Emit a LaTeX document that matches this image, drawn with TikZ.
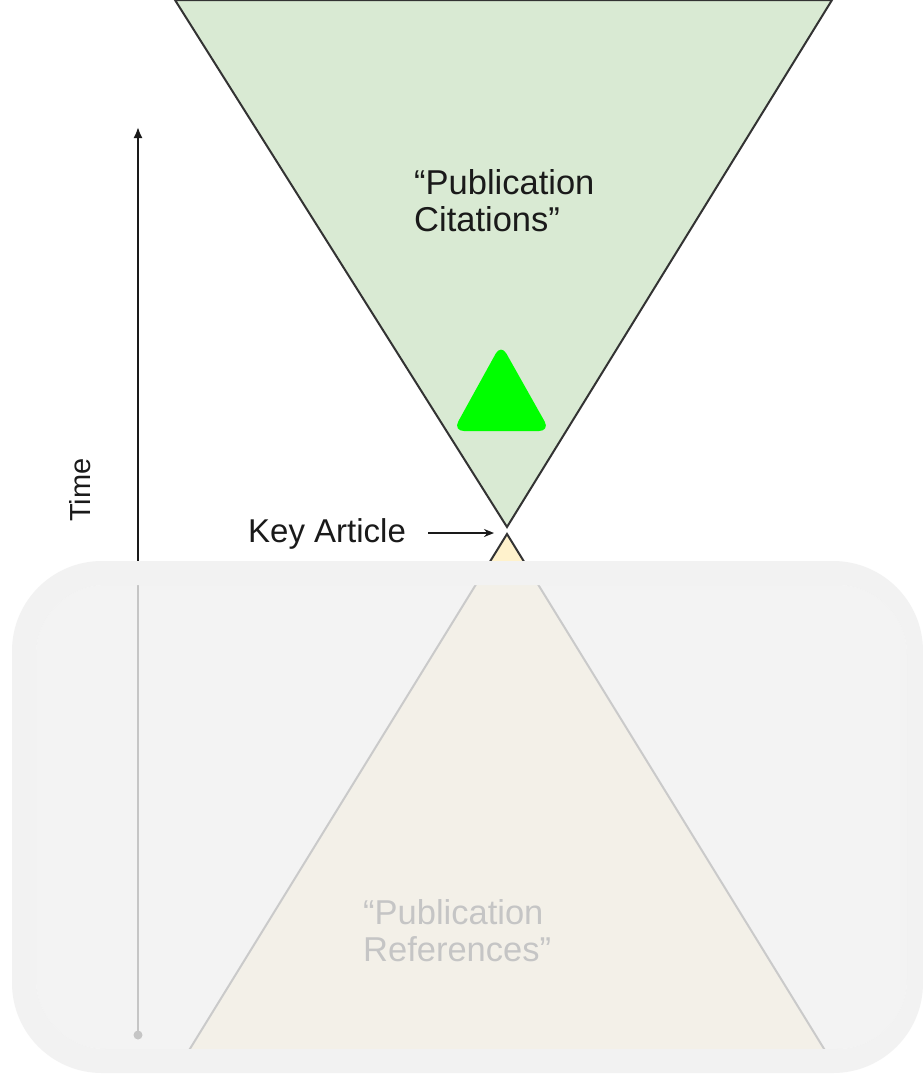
\documentclass[tikz,border=0pt]{standalone}
\usepackage{fontspec}
\setmainfont{Liberation Sans}
\usetikzlibrary{arrows.meta}
\definecolor{citgreen}{HTML}{D9EAD3}
\definecolor{refyellow}{HTML}{FFF2CC}
\definecolor{edgegray}{HTML}{333333}
\definecolor{bandgray}{HTML}{F2F2F2}
\definecolor{veilgray}{HTML}{F0F0F0}
\definecolor{brightgreen}{HTML}{00FF00}
\definecolor{textdark}{HTML}{1A1A1A}
\begin{document}
\begin{tikzpicture}[x=1pt,y=-1pt,
  lbl/.style={font=\fontsize{34.5}{36.5}\selectfont, inner sep=0pt, text=textdark, align=left},
  cone/.style={draw=edgegray, line width=2pt, line join=miter},
  pointer/.style={draw=textdark, line width=1.8pt, -{Stealth[length=10pt,width=8pt]}}]
\useasboundingbox (0,0) rectangle (923,1080);
\fill[white] (0,0) rectangle (923,1080);
% citation cone
\coordinate (gl) at (175,0);
\coordinate (gr) at (832,0);
\coordinate (ga) at (507,527);
\path[cone, fill=citgreen] (gl) -- (gr) -- (ga) -- cycle;
% reference cone
\coordinate (ya) at (507,534);
\coordinate (yl) at (188,1052);
\coordinate (yr) at (826,1052);
\path[cone, fill=refyellow] (ya) -- (yr) -- (yl) -- cycle;
% bright triangle
\coordinate (bt) at (501,344);
\coordinate (bl) at (453,431);
\coordinate (br) at (550,431);
\fill[brightgreen, rounded corners=11pt] (bt) -- (br) -- (bl) -- cycle;
% labels (base = baseline of the last line)
\node[lbl, anchor=base west] (cit) at (414,231) {“Publication\\Citations”};
\node[font=\fontsize{33}{36}\selectfont, inner sep=0pt, text=textdark, anchor=base west] (key) at (248,542) {Key Article};
\node[lbl, anchor=base west] (ref) at (363,961) {“Publication\\References”};
\node[font=\fontsize{29}{33}\selectfont, inner sep=0pt, text=textdark, rotate=90] (time) at (80,490) {Time};
% key article pointer
\coordinate (tip) at (494,533);
\draw[pointer, shorten <=22pt] (key.east |- tip) -- (tip);
% time axis
\coordinate (tbot) at (138,1035);
\coordinate (ttop) at (138,127);
\draw[draw=textdark, line width=2pt, -{Latex[length=11pt,width=9pt]}] (tbot) -- (ttop);
\fill[textdark] (tbot) circle (4.5pt);
% veil over the lower half
\fill[bandgray, even odd rule, rounded corners=90pt] (12,561) rectangle (923,1073)
  {[rounded corners=70pt] (36,585) rectangle (907,1049)};
\fill[veilgray, opacity=0.8, rounded corners=70pt] (36,585) rectangle (907,1049);
\end{tikzpicture}
\end{document}
